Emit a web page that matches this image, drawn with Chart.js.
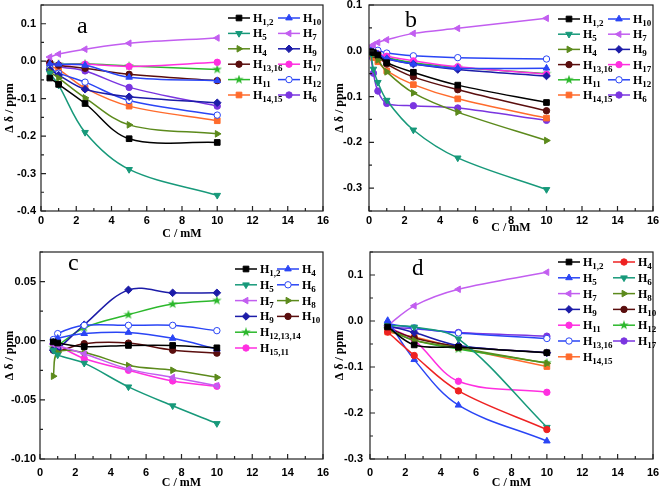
<!DOCTYPE html>
<html>
<head>
<meta charset="utf-8">
<script src="https://cdn.jsdelivr.net/npm/chart.js@4.4.1/dist/chart.umd.min.js"></script>
<style>
  body { margin: 0; background: #fff; }
  canvas { position: absolute; }
</style>
</head>
<body>
<canvas id="chartA" width="330" height="245" style="left:0;top:0"></canvas>
<canvas id="chartB" width="331" height="245" style="left:330px;top:0"></canvas>
<canvas id="chartC" width="330" height="245" style="left:0;top:245px"></canvas>
<canvas id="chartD" width="331" height="245" style="left:330px;top:245px"></canvas>
<script>
const xTicks = [0, 2, 4, 6, 8, 10, 12, 14, 16];
const yTicksA = [-0.4, -0.3, -0.2, -0.1, 0, 0.1];
const yTicksB = [-0.3, -0.2, -0.1, 0, 0.1];
const yTicksC = [-0.1, -0.05, 0, 0.05];
const yTicksD = [-0.3, -0.2, -0.1, 0, 0.1];

// panel a
const xA = [0.5, 1, 2.5, 5, 10];
const aH1_2 = [-0.045, -0.062, -0.113, -0.207, -0.217];
const aH10 = [-0.007, -0.008, -0.011, -0.043, -0.052];
const aH5 = [-0.032, -0.064, -0.19, -0.289, -0.358];
const aH7 = [0.011, 0.019, 0.032, 0.048, 0.062];
const aH4 = [-0.028, -0.045, -0.098, -0.17, -0.194];
const aH9 = [-0.023, -0.037, -0.075, -0.095, -0.111];
const aH13_16 = [-0.004, -0.011, -0.019, -0.035, -0.052];
const aH17 = [-0.004, -0.01, -0.008, -0.014, -0.003];
const aH11 = [-0.005, -0.008, -0.007, -0.013, -0.022];
const aH12 = [-0.019, -0.032, -0.056, -0.105, -0.144];
const aH14_15 = [-0.014, -0.022, -0.072, -0.12, -0.159];
const aH6 = [-0.004, -0.014, -0.026, -0.07, -0.12];
const labelsA = ["H1,2", "H10", "H5", "H7", "H4", "H9", "H13,16", "H17", "H11", "H12", "H14,15", "H6"];

// panel b
const xB = [0.1, 0.25, 0.5, 1, 2.5, 5, 10];
const bH1_2 = [-0.002, -0.004, -0.009, -0.026, -0.047, -0.075, -0.113];
const bH10 = [0, -0.003, -0.007, -0.017, -0.029, -0.038, -0.038];
const bH5 = [-0.005, -0.04, -0.069, -0.108, -0.173, -0.234, -0.303];
const bH7 = [0.009, 0.013, 0.018, 0.024, 0.038, 0.049, 0.071];
const bH4 = [-0.003, -0.008, -0.02, -0.046, -0.092, -0.134, -0.196];
const bH9 = [-0.001, -0.005, -0.011, -0.018, -0.029, -0.041, -0.055];
const bH13_16 = [-0.004, -0.007, -0.012, -0.029, -0.057, -0.085, -0.131];
const bH17 = [-0.001, -0.004, -0.007, -0.012, -0.022, -0.035, -0.051];
const bH11 = [-0.002, -0.005, -0.01, -0.015, -0.026, -0.036, -0.05];
const bH12 = [0.002, 0.001, 0.001, -0.005, -0.011, -0.015, -0.018];
const bH14_15 = [-0.006, -0.015, -0.024, -0.044, -0.074, -0.105, -0.147];
const bH6 = [-0.012, -0.049, -0.088, -0.115, -0.12, -0.125, -0.152];
const labelsB = labelsA;

// panel c
const xC = [0.75, 1, 2.5, 5, 7.5, 10];
const cH1_2 = [-0.001, -0.002, -0.005, -0.004, -0.004, -0.006];
const cH4 = [-0.001, 0.002, 0.006, 0.007, 0.002, -0.007];
const cH5 = [-0.008, -0.012, -0.019, -0.039, -0.055, -0.07];
const cH6 = [0.001, 0.006, 0.013, 0.013, 0.013, 0.0085];
const cH7 = [-0.003, -0.004, -0.011, -0.024, -0.031, -0.038];
const cH8 = [-0.03, -0.01, -0.01, -0.021, -0.025, -0.031];
const cH9 = [-0.008, -0.007, 0.0135, 0.043, 0.0405, 0.0405];
const cH10 = [-0.008, -0.009, -0.0025, -0.002, -0.008, -0.0105];
const cH12_13_14 = [-0.006, -0.004, 0.011, 0.022, 0.031, 0.034];
const cH15_11 = [-0.0025, -0.004, -0.015, -0.025, -0.034, -0.0385];
const labelsC = ["H1,2", "H4", "H5", "H6", "H7", "H8", "H9", "H10", "H12,13,14", "H15,11"];

// panel d
const xD = [1, 2.5, 5, 10];
const dH1_2 = [-0.013, -0.052, -0.057, -0.069];
const dH4 = [-0.024, -0.075, -0.152, -0.236];
const dH5 = [0.001, -0.084, -0.183, -0.261];
const dH6 = [-0.01, -0.013, -0.039, -0.231];
const dH7 = [-0.01, 0.033, 0.069, 0.106];
const dH8 = [-0.019, -0.042, -0.058, -0.092];
const dH9 = [-0.01, -0.025, -0.053, -0.069];
const dH10 = [-0.015, -0.037, -0.055, -0.069];
const dH11 = [-0.013, -0.042, -0.131, -0.155];
const dH12 = [-0.017, -0.042, -0.061, -0.091];
const dH13_16 = [-0.006, -0.015, -0.026, -0.038];
const dH17 = [-0.014, -0.017, -0.025, -0.033];
const dH14_15 = [-0.024, -0.035, -0.058, -0.099];
const labelsD = ["H1,2", "H4", "H5", "H6", "H7", "H8", "H9", "H10", "H11", "H12", "H13,16", "H17", "H14,15"];

const COLORS = {
  black: "#000000", blue: "#2a45f5", teal: "#17997a", violet: "#c25ef0",
  olive: "#5c8a1c", navy: "#1c1ca8", maroon: "#5a0e0e", magenta: "#ff2fe0",
  green: "#2cb82c", orange: "#ff6b2c", purple: "#7a35e0", red: "#ee2222"
};

const SHAPES = {
  square: { style: "rect", rotation: 0, radius: 4 },
  up: { style: "triangle", rotation: 0, radius: 3.8 },
  down: { style: "triangle", rotation: 180, radius: 3.8 },
  left: { style: "triangle", rotation: 270, radius: 3.8 },
  right: { style: "triangle", rotation: 90, radius: 3.8 },
  diamond: { style: "rectRot", rotation: 0, radius: 3.8 },
  circle: { style: "circle", rotation: 0, radius: 3.2 },
  open: { style: "circle", rotation: 0, radius: 3.2 },
  star: { style: "star", rotation: 0, radius: 4 }
};

function starImage(color) {
  const c = document.createElement("canvas");
  c.width = 10;
  c.height = 10;
  const g = c.getContext("2d");
  g.fillStyle = color;
  g.beginPath();
  for (let i = 0; i < 10; i++) {
    const r = i % 2 ? 2 : 5;
    const a = -Math.PI / 2 + i * Math.PI / 5;
    g.lineTo(5 + r * Math.cos(a), 5 + r * Math.sin(a));
  }
  g.closePath();
  g.fill();
  return c;
}

function tickMarks(scale, major) {
  const half = (major[1] - major[0]) / 2;
  const out = [];
  let start = major[0];
  while (start - half >= scale.min - 1e-9) start -= half;
  for (let v = start; v <= scale.max + 1e-9; v += half) {
    out.push({ v, major: major.some(m => Math.abs(m - v) < 1e-9) });
  }
  return out;
}

function drawLegend(chart, o) {
  const ctx = chart.ctx;
  const sets = chart.data.datasets;
  const pairCount = o.pairCount || sets.length;
  sets.forEach((ds, i) => {
    let row, col;
    if (i < pairCount) {
      row = Math.floor(i / 2);
      col = i % 2;
    } else {
      row = Math.ceil(pairCount / 2) + (i - pairCount);
      col = 0;
    }
    const x = col ? o.x2 : o.x1;
    const y = o.y0 + row * o.dy;
    ctx.strokeStyle = ds.borderColor;
    ctx.lineWidth = 1.5;
    ctx.beginPath();
    ctx.moveTo(x, y);
    ctx.lineTo(x + 22, y);
    ctx.stroke();
    ctx.fillStyle = ds.pointBackgroundColor;
    ctx.lineWidth = 1;
    Chart.helpers.drawPoint(ctx, {
      pointStyle: ds.pointStyle, rotation: ds.pointRotation,
      radius: ds.pointRadius, borderWidth: 1
    }, x + 11, y);
    ctx.fillStyle = "#000";
    ctx.textBaseline = "alphabetic";
    ctx.textAlign = "left";
    ctx.font = 'bold 12px "Liberation Serif", serif';
    ctx.fillText("H", x + 25, y + 4);
    const w = ctx.measureText("H").width;
    ctx.font = 'bold 9px "Liberation Serif", serif';
    ctx.fillText(ds.label.slice(1), x + 25 + w, y + 7);
  });
}

const framePlugin = {
  id: "frame",
  afterDatasetsDraw(chart, args, o) {
    const { ctx, chartArea: a } = chart;
    const sx = chart.scales.x;
    const sy = chart.scales.y;
    ctx.save();
    ctx.strokeStyle = "#222";
    ctx.lineWidth = 1.2;
    ctx.strokeRect(a.left, a.top, a.right - a.left, a.bottom - a.top);
    ctx.beginPath();
    tickMarks(sx, xTicks).forEach(t => {
      const p = sx.getPixelForValue(t.v);
      ctx.moveTo(p, a.bottom);
      ctx.lineTo(p, a.bottom - (t.major ? 5 : 3));
    });
    tickMarks(sy, sy.ticks.map(t => t.value)).forEach(t => {
      const p = sy.getPixelForValue(t.v);
      ctx.moveTo(a.left, p);
      ctx.lineTo(a.left + (t.major ? 5 : 3), p);
    });
    ctx.stroke();
    ctx.fillStyle = "#000";
    ctx.font = o.letterSize + 'px "Liberation Serif", serif';
    ctx.fillText(o.letter, o.letterX, o.letterY);
    drawLegend(chart, o);
    ctx.restore();
  }
};

const tickFont = { family: '"Liberation Sans", Arial, sans-serif', size: 11, weight: "bold" };
const titleFont = { family: '"Liberation Serif", "Times New Roman", serif', size: 12, weight: "bold" };

function buildPanel(id, p) {
  const datasets = p.values.map((vals, i) => {
    const shape = SHAPES[p.shapes[i]];
    const color = p.colors[i];
    return {
      label: p.labels[i],
      data: p.x.map((x, k) => ({ x, y: vals[k] })),
      borderColor: color,
      backgroundColor: color,
      pointBackgroundColor: p.shapes[i] === "open" ? "#fff" : color,
      pointBorderColor: color,
      pointStyle: shape.style === "star" ? starImage(color) : shape.style,
      pointRotation: shape.rotation,
      pointRadius: shape.radius,
      pointBorderWidth: 1,
      borderWidth: 1.5,
      tension: 0.35,
      fill: false
    };
  });

  return new Chart(document.getElementById(id), {
    type: "line",
    data: { datasets },
    options: {
      responsive: false,
      animation: false,
      layout: { padding: { top: p.top, right: p.right, left: 0, bottom: 0 } },
      plugins: {
        legend: { display: false },
        tooltip: { enabled: false },
        frame: p.frame
      },
      scales: {
        x: {
          type: "linear", min: 0, max: 16,
          afterBuildTicks: s => { s.ticks = xTicks.map(v => ({ value: v })); },
          afterFit: s => {
            s.height = p.xHeight;
            s.paddingLeft = 0;
            s.paddingRight = 0;
          },
          grid: { display: false, drawTicks: false },
          border: { display: false },
          ticks: { color: "#000", font: tickFont, padding: p.xPad, maxRotation: 0, autoSkip: false },
          title: { display: true, text: "C / mM", color: "#000", font: titleFont, padding: { top: 0, bottom: p.xTitlePad } }
        },
        y: {
          type: "linear", min: p.yMin, max: p.yMax,
          afterBuildTicks: s => { s.ticks = p.yTicks.map(v => ({ value: v })); },
          afterFit: s => {
            s.width = p.yWidth;
            s.paddingTop = 0;
            s.paddingBottom = 0;
          },
          grid: { display: false, drawTicks: false },
          border: { display: false },
          ticks: {
            color: "#000", font: tickFont, padding: p.yPad, autoSkip: false,
            callback: v => v.toFixed(p.decimals)
          },
          title: { display: true, text: "Δ δ / ppm", color: "#000", font: titleFont, padding: { top: 3, bottom: 0 } }
        }
      }
    },
    plugins: [framePlugin]
  });
}

const C = COLORS;

buildPanel("chartA", {
  x: xA,
  labels: labelsA,
  values: [aH1_2, aH10, aH5, aH7, aH4, aH9, aH13_16, aH17, aH11, aH12, aH14_15, aH6],
  colors: [C.black, C.blue, C.teal, C.violet, C.olive, C.navy, C.maroon, C.magenta, C.green, C.blue, C.orange, C.purple],
  shapes: ["square", "up", "down", "left", "right", "diamond", "circle", "circle", "star", "open", "square", "circle"],
  yTicks: yTicksA, yMin: -0.4, yMax: 0.15, decimals: 1,
  top: 5, right: 7, xHeight: 34, yWidth: 41, xPad: 3, yPad: 5, xTitlePad: 4,
  frame: { letter: "a", letterX: 77, letterY: 33, letterSize: 24, x1: 228, x2: 278, y0: 18, dy: 15.4 }
});

buildPanel("chartB", {
  x: xB,
  labels: labelsB,
  values: [bH1_2, bH10, bH5, bH7, bH4, bH9, bH13_16, bH17, bH11, bH12, bH14_15, bH6],
  colors: [C.black, C.blue, C.teal, C.violet, C.olive, C.navy, C.maroon, C.magenta, C.green, C.blue, C.orange, C.purple],
  shapes: ["square", "up", "down", "left", "right", "diamond", "circle", "circle", "star", "open", "square", "circle"],
  yTicks: yTicksB, yMin: -0.35, yMax: 0.1, decimals: 1,
  top: 5, right: 8, xHeight: 34, yWidth: 39, xPad: 3, yPad: 7, xTitlePad: 10,
  frame: { letter: "b", letterX: 75, letterY: 27, letterSize: 24, x1: 228, x2: 278, y0: 19, dy: 15.2 }
});

buildPanel("chartC", {
  x: xC,
  labels: labelsC,
  values: [cH1_2, cH4, cH5, cH6, cH7, cH8, cH9, cH10, cH12_13_14, cH15_11],
  colors: [C.black, C.blue, C.teal, C.blue, C.violet, C.olive, C.navy, C.maroon, C.green, C.magenta],
  shapes: ["square", "up", "down", "open", "left", "right", "diamond", "circle", "star", "circle"],
  yTicks: yTicksC, yMin: -0.1, yMax: 0.075, decimals: 2,
  top: 7, right: 7, xHeight: 31, yWidth: 40, xPad: 7, yPad: 4, xTitlePad: 0,
  frame: { letter: "c", letterX: 68, letterY: 25, letterSize: 24, x1: 235, x2: 277, y0: 24, dy: 15.8, pairCount: 8 }
});

buildPanel("chartD", {
  x: xD,
  labels: labelsD,
  values: [dH1_2, dH4, dH5, dH6, dH7, dH8, dH9, dH10, dH11, dH12, dH13_16, dH17, dH14_15],
  colors: [C.black, C.red, C.blue, C.teal, C.violet, C.olive, C.navy, C.maroon, C.magenta, C.green, C.blue, C.purple, C.orange],
  shapes: ["square", "circle", "up", "down", "left", "right", "diamond", "circle", "circle", "star", "open", "circle", "square"],
  yTicks: yTicksD, yMin: -0.3, yMax: 0.15, decimals: 1,
  top: 7, right: 8, xHeight: 31, yWidth: 40, xPad: 7, yPad: 7, xTitlePad: 0,
  frame: { letter: "d", letterX: 82, letterY: 30, letterSize: 23, x1: 228, x2: 283, y0: 17, dy: 15.8 }
});
</script>
</body>
</html>
